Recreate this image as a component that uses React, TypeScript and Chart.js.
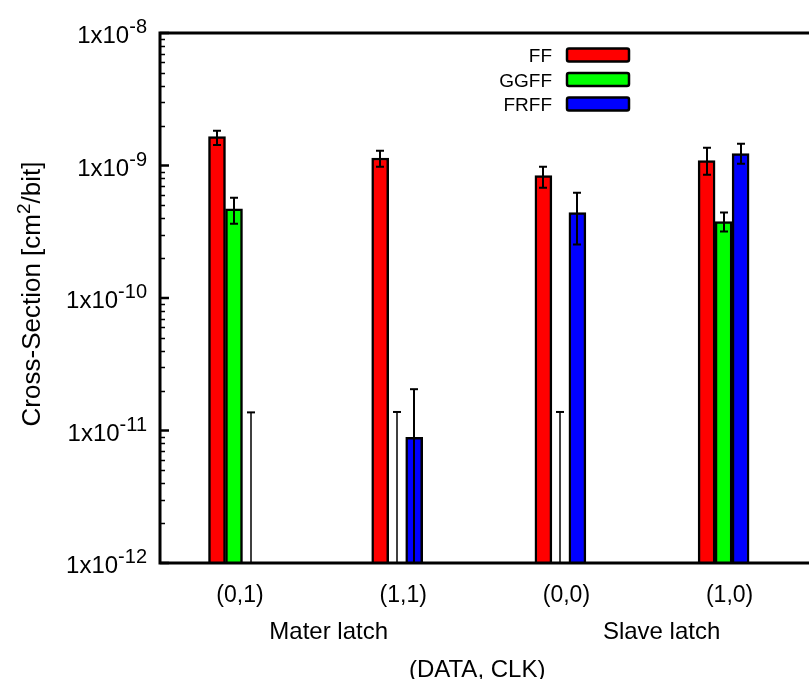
import { useEffect, useRef } from "react";
import { Chart, registerables } from "chart.js";

Chart.register(...registerables);

// ---- data ----
const categories = ["(0,1)", "(1,1)", "(0,0)", "(1,0)"];
const seriesNames = ["FF", "GGFF", "FRFF"];
const seriesColors = ["#ff0000", "#00ff00", "#0000ff"];

const ffValues = [1.65e-9, 1.14e-9, 8.4e-10, 1.09e-9];
const ffErrLow = [1.43e-9, 9.8e-10, 6.8e-10, 8.5e-10];
const ffErrHigh = [1.83e-9, 1.29e-9, 9.8e-10, 1.36e-9];

const ggffValues = [4.7e-10, null, null, 3.77e-10];
const ggffErrLow = [3.64e-10, 0, 0, 3.17e-10];
const ggffErrHigh = [5.71e-10, 1.38e-11, 1.38e-11, 4.41e-10];

const frffValues = [null, 8.9e-12, 4.41e-10, 1.23e-9];
const frffErrLow = [0, 0, 2.53e-10, 1.03e-9];
const frffErrHigh = [1.37e-11, 2.05e-11, 6.23e-10, 1.46e-9];

const yTickExponents = [-8, -9, -10, -11, -12];
const yMin = 1e-12;
const yMax = 1e-8;
const xMin = -0.4534;
const xMax = 3.75;

const groupLabels = ["Mater latch", "Slave latch"];
const groupLabelAt = [0.58, 2.62];
const xTitle = "(DATA, CLK)";
const xTitleAt = 1.49;
const yTitleParts = ["Cross-Section [cm", "2", "/bit]"];

const FONT = '"Liberation Sans", Arial, Helvetica, sans-serif';

const seriesValues = [ffValues, ggffValues, frffValues];
const seriesErrLow = [ffErrLow, ggffErrLow, frffErrLow];
const seriesErrHigh = [ffErrHigh, ggffErrHigh, frffErrHigh];

const decorPlugin = {
  id: "decor",
  afterDatasetsDraw(chart: any) {
    const ctx: CanvasRenderingContext2D = chart.ctx;
    const area = chart.chartArea;
    const ys = chart.scales.y;
    // error bars
    ctx.save();
    ctx.strokeStyle = "#000";
    chart.data.datasets.forEach((ds: any, di: number) => {
      const meta = chart.getDatasetMeta(di);
      ds.errLow.forEach((lo: number, i: number) => {
        const hi = ds.errHigh[i];
        const el = meta.data[i];
        const x = el && isFinite(el.x) ? Math.round(el.x) : 0;
        const isBar = ds.data[i].y !== null;
        const yHi = ys.getPixelForValue(hi);
        const yLo = lo > 0 ? Math.min(ys.getPixelForValue(lo), area.bottom) : area.bottom;
        ctx.lineWidth = isBar ? 2 : 1.5;
        ctx.beginPath();
        ctx.moveTo(x, yLo);
        ctx.lineTo(x, yHi);
        ctx.stroke();
        const cap = 4;
        ctx.lineWidth = 2;
        ctx.beginPath();
        ctx.moveTo(x - cap, yHi);
        ctx.lineTo(x + cap, yHi);
        if (yLo < area.bottom - 1) {
          ctx.moveTo(x - cap, yLo);
          ctx.lineTo(x + cap, yLo);
        }
        ctx.stroke();
      });
    });
    ctx.restore();
  },
  afterDraw(chart: any) {
    const ctx: CanvasRenderingContext2D = chart.ctx;
    const area = chart.chartArea;
    const xs = chart.scales.x;
    const ys = chart.scales.y;
    ctx.save();
    // frame
    ctx.strokeStyle = "#000";
    ctx.lineWidth = 3;
    ctx.beginPath();
    ctx.moveTo(area.right + 5, area.top);
    ctx.lineTo(area.left, area.top);
    ctx.lineTo(area.left, area.bottom);
    ctx.lineTo(area.right + 5, area.bottom);
    ctx.stroke();

    // y ticks (inside)
    for (let e = -12; e < -8; e++) {
      for (let m = 2; m <= 9; m++) {
        const py = Math.round(ys.getPixelForValue(m * Math.pow(10, e))) + 0.5;
        ctx.lineWidth = 1.5;
        ctx.beginPath();
        ctx.moveTo(area.left, py);
        ctx.lineTo(area.left + 5, py);
        ctx.stroke();
      }
    }
    yTickExponents.forEach((e) => {
      const py = ys.getPixelForValue(Math.pow(10, e));
      ctx.lineWidth = 2.5;
      ctx.beginPath();
      ctx.moveTo(area.left, py);
      ctx.lineTo(area.left + 9, py);
      ctx.stroke();
    });

    // y tick labels
    ctx.fillStyle = "#000";
    ctx.textBaseline = "alphabetic";
    ctx.textAlign = "left";
    const labelRight = area.left - 13;
    const baseFont = `24px ${FONT}`;
    const supFont = `20px ${FONT}`;
    yTickExponents.forEach((e) => {
      const py = ys.getPixelForValue(Math.pow(10, e));
      const base = "1x10";
      const sup = String(e);
      ctx.font = baseFont;
      const bw = ctx.measureText(base).width;
      ctx.font = supFont;
      const sw = ctx.measureText(sup).width;
      ctx.font = baseFont;
      ctx.fillText(base, labelRight - sw - bw, py + 10);
      ctx.font = supFont;
      ctx.fillText(sup, labelRight - sw, py);
    });

    // y title
    ctx.save();
    ctx.translate(40, (area.top + area.bottom) / 2 - 4);
    ctx.rotate(-Math.PI / 2);
    const f1 = `26px ${FONT}`;
    const f2 = `19px ${FONT}`;
    ctx.font = f1;
    const w0 = ctx.measureText(yTitleParts[0]).width;
    const w2 = ctx.measureText(yTitleParts[2]).width;
    ctx.font = f2;
    const w1 = ctx.measureText(yTitleParts[1]).width;
    let tx = -(w0 + w1 + w2) / 2;
    ctx.font = f1;
    ctx.fillText(yTitleParts[0], tx, 0);
    tx += w0;
    ctx.font = f2;
    ctx.fillText(yTitleParts[1], tx, -10);
    tx += w1;
    ctx.font = f1;
    ctx.fillText(yTitleParts[2], tx, 0);
    ctx.restore();

    // x tick labels
    ctx.textAlign = "center";
    ctx.font = `23px ${FONT}`;
    categories.forEach((c, i) => {
      ctx.fillText(c, xs.getPixelForValue(i) + 6, area.bottom + 39);
    });
    // group labels
    ctx.font = `24px ${FONT}`;
    groupLabels.forEach((g, i) => {
      ctx.fillText(g, xs.getPixelForValue(groupLabelAt[i]), area.bottom + 76);
    });
    ctx.fillText(xTitle, xs.getPixelForValue(xTitleAt), area.bottom + 114);

    // legend
    ctx.font = `19px ${FONT}`;
    ctx.textAlign = "right";
    chart.data.datasets.forEach((ds: any, i: number) => {
      const cy = 55 + i * 24.5;
      ctx.fillStyle = "#000";
      ctx.fillText(ds.label, 552, cy + 7);
      ctx.fillStyle = ds.backgroundColor;
      ctx.strokeStyle = "#000";
      ctx.lineWidth = 2.5;
      ctx.beginPath();
      (ctx as any).roundRect(567, cy - 6.5, 62, 13, 2);
      ctx.fill();
      ctx.stroke();
    });
    ctx.restore();
  },
};

export default function App() {
  const canvasRef = useRef<HTMLCanvasElement | null>(null);

  useEffect(() => {
    const canvas = canvasRef.current;
    if (!canvas) return;
    const datasets = seriesNames.map((name, si) => ({
      label: name,
      data: seriesValues[si].map((v, i) => ({ x: i, y: v })),
      errLow: seriesErrLow[si],
      errHigh: seriesErrHigh[si],
      backgroundColor: seriesColors[si],
      borderColor: "#000",
      borderWidth: 2.5,
      borderSkipped: "start",
      barThickness: 17,
    }));
    const chart = new Chart(canvas, {
      type: "bar",
      data: { datasets } as any,
      options: {
        animation: false,
        responsive: false,
        devicePixelRatio: 1,
        layout: { padding: { left: 160, top: 33, right: 14, bottom: 116 } },
        plugins: {
          legend: { display: false },
          tooltip: { enabled: false },
        },
        scales: {
          x: { type: "linear", min: xMin, max: xMax, display: false, offset: false },
          y: { type: "logarithmic", min: yMin, max: yMax, display: false },
        },
      } as any,
      plugins: [decorPlugin],
    });
    return () => chart.destroy();
  }, []);

  return (
    <div
      style={{
        position: "fixed",
        left: 0,
        top: 0,
        width: 809,
        height: 679,
        overflow: "hidden",
        background: "#fff",
      }}
    >
      <canvas ref={canvasRef} width={860} height={679} style={{ width: 860, height: 679, display: "block" }} />
    </div>
  );
}
